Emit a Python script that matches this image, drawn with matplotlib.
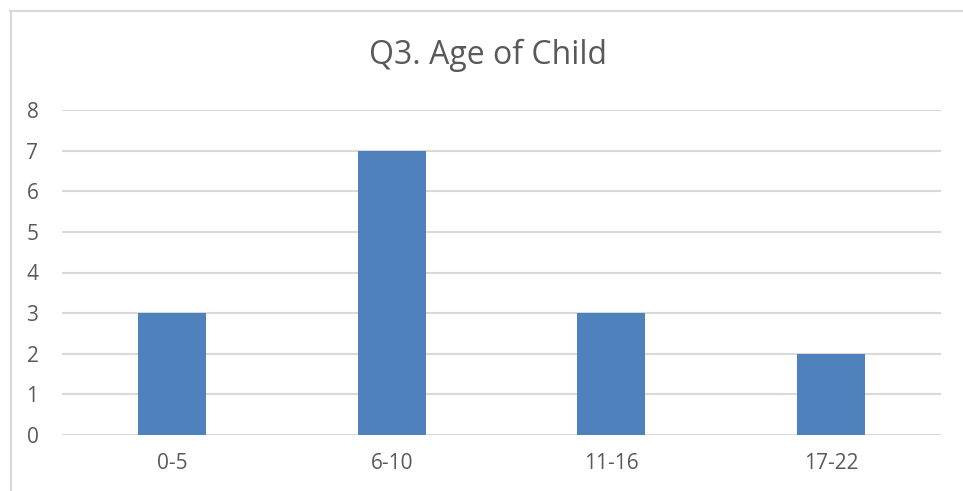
import matplotlib.pyplot as plt

ages = ['0-5', '6-10', '11-16', '17-22']
counts = [3, 7, 3, 2]
yticks = [0, 1, 2, 3, 4, 5, 6, 7, 8]

plt.rcParams['font.family'] = ['Open Sans', 'DejaVu Sans']

fig = plt.figure(figsize=(9.63, 4.91), dpi=100)
ax = fig.add_axes([62/963, 1 - 435/491, (941 - 62)/963, (435 - 110)/491])

x = range(len(ages))
ax.bar(x, counts, width=0.31, color='#4f81bd', zorder=3)
ax.set_xlim(-0.5, 3.5)
ax.set_ylim(0, 8)
ax.set_yticks(yticks)
ax.set_xticks(list(x))
ax.set_xticklabels(ages)
ax.grid(True, axis='y', color='#d9d9d9', linewidth=1.5, zorder=0)
for s in ax.spines.values():
    s.set_visible(False)
ax.tick_params(length=0, labelsize=15, labelcolor='#595959')
ax.tick_params(axis='y', pad=17)
ax.tick_params(axis='x', pad=13)

fig.text(488/963, 1 - 55/491, 'Q3. Age of Child', ha='center', va='center',
         fontsize=23, color='#595959')

# chart frame (top and left edges visible)
fig.add_artist(plt.Line2D([10/963, 1], [1 - 11/491] * 2, color='#d9d9d9', lw=1.5))
fig.add_artist(plt.Line2D([10.5/963] * 2, [0, 1 - 11/491], color='#d9d9d9', lw=1.5))

fig.savefig('out.png', dpi=100)
